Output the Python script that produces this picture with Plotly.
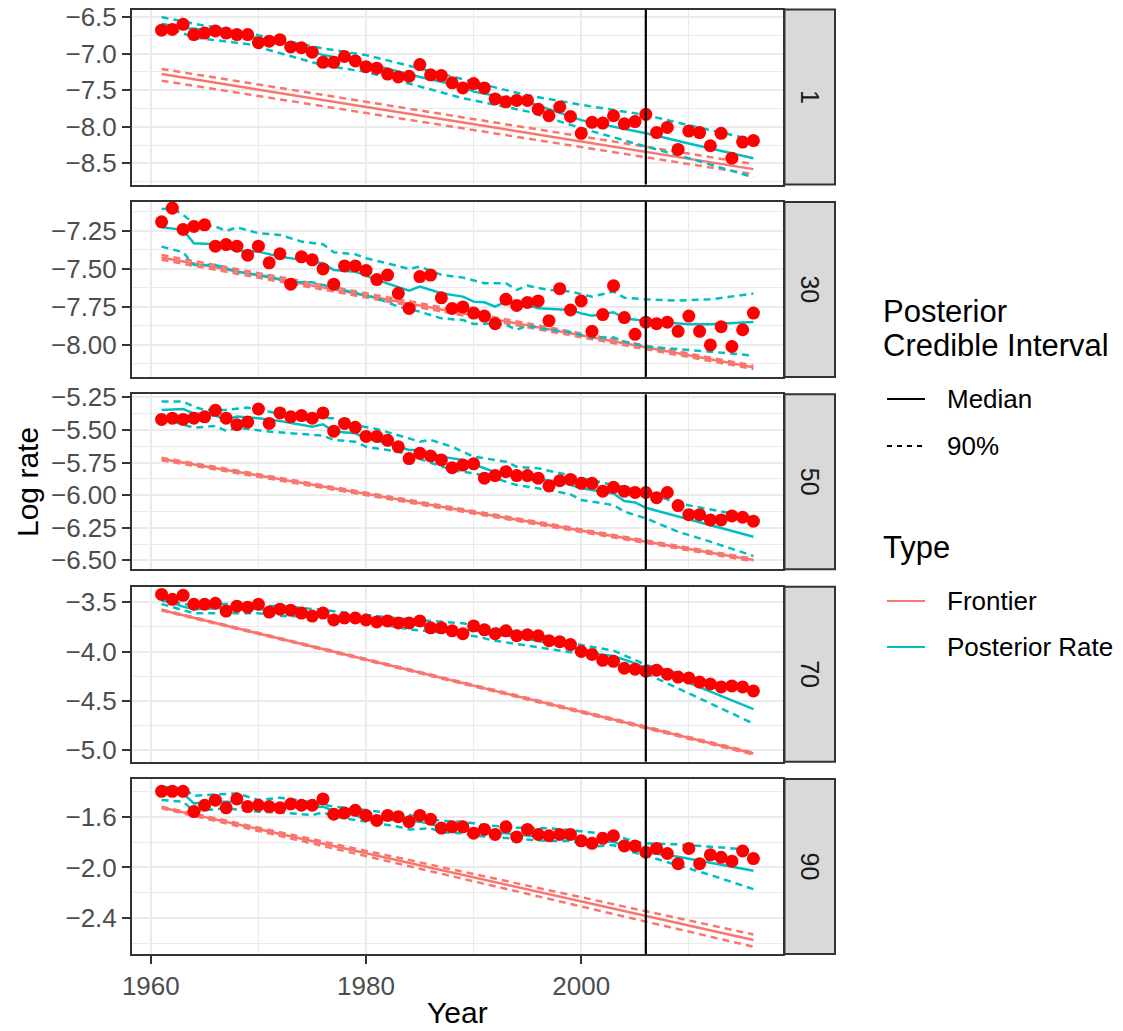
import plotly.graph_objects as go

W, H = 1123, 1031

# ---------------- data ----------------
years = list(range(1961, 2017))
ages = ["1", "30", "50", "70", "90"]
forecast_year = 2006

obs_1 = [-6.68, -6.67, -6.60, -6.74, -6.72, -6.69, -6.72, -6.74, -6.74, -6.85,
         -6.83, -6.81, -6.91, -6.92, -6.98, -7.12, -7.12, -7.04, -7.10, -7.18,
         -7.20, -7.28, -7.32, -7.31, -7.15, -7.29, -7.30, -7.40, -7.47, -7.41,
         -7.47, -7.62, -7.66, -7.64, -7.64, -7.76, -7.85, -7.73, -7.86, -8.09,
         -7.94, -7.95, -7.85, -7.96, -7.93, -7.83, -8.08, -8.01, -8.31, -8.06,
         -8.08, -8.26, -8.09, -8.43, -8.21, -8.19]
obs_30 = [-7.19, -7.10, -7.24, -7.22, -7.21, -7.35, -7.34, -7.35, -7.41, -7.35,
          -7.46, -7.40, -7.60, -7.42, -7.44, -7.50, -7.60, -7.48, -7.48, -7.51,
          -7.57, -7.54, -7.66, -7.76, -7.55, -7.54, -7.69, -7.76, -7.75, -7.79,
          -7.81, -7.86, -7.70, -7.74, -7.72, -7.71, -7.84, -7.63, -7.77, -7.71,
          -7.91, -7.80, -7.61, -7.82, -7.93, -7.85, -7.86, -7.85, -7.91, -7.81,
          -7.91, -8.00, -7.88, -8.01, -7.90, -7.79]
obs_50 = [-5.42, -5.41, -5.42, -5.41, -5.40, -5.35, -5.41, -5.46, -5.44, -5.34,
          -5.45, -5.37, -5.40, -5.39, -5.41, -5.37, -5.51, -5.45, -5.48, -5.55,
          -5.55, -5.58, -5.63, -5.72, -5.68, -5.70, -5.73, -5.79, -5.77, -5.76,
          -5.87, -5.85, -5.82, -5.85, -5.85, -5.87, -5.93, -5.89, -5.88, -5.91,
          -5.91, -5.97, -5.94, -5.97, -5.98, -5.98, -6.02, -5.98, -6.08, -6.15,
          -6.15, -6.19, -6.19, -6.16, -6.17, -6.20]
obs_70 = [-3.42, -3.47, -3.43, -3.52, -3.52, -3.51, -3.59, -3.54, -3.55, -3.52,
          -3.60, -3.57, -3.58, -3.61, -3.64, -3.61, -3.68, -3.66, -3.66, -3.68,
          -3.70, -3.69, -3.71, -3.71, -3.69, -3.76, -3.76, -3.79, -3.82, -3.74,
          -3.78, -3.82, -3.79, -3.84, -3.83, -3.84, -3.89, -3.90, -3.93, -4.00,
          -4.03, -4.09, -4.10, -4.17, -4.18, -4.20, -4.19, -4.23, -4.26, -4.27,
          -4.31, -4.33, -4.36, -4.35, -4.36, -4.40]
obs_90 = [-1.40, -1.40, -1.40, -1.56, -1.51, -1.47, -1.53, -1.46, -1.52, -1.51,
          -1.52, -1.53, -1.50, -1.51, -1.51, -1.46, -1.58, -1.57, -1.55, -1.59,
          -1.63, -1.59, -1.60, -1.64, -1.59, -1.62, -1.69, -1.68, -1.68, -1.73,
          -1.70, -1.74, -1.68, -1.76, -1.70, -1.74, -1.75, -1.74, -1.74, -1.79,
          -1.81, -1.77, -1.75, -1.83, -1.83, -1.88, -1.85, -1.89, -1.97, -1.85,
          -1.97, -1.90, -1.92, -1.95, -1.87, -1.93]

# posterior rate: median and 90% interval, read at (year, value) knots
med_1 = [(1961, -6.59), (1963, -6.65), (1966, -6.68), (1970, -6.79), (1973, -6.87),
         (1976, -7.02), (1980, -7.13), (1985, -7.32), (1989, -7.45), (1990, -7.52),
         (1995, -7.66), (2000, -7.91), (2006, -8.09), (2010, -8.23), (2016, -8.43)]
hi_1 = [(1961, -6.50), (1964, -6.59), (1970, -6.75), (1976, -6.93), (1980, -7.02),
        (1985, -7.20), (1989, -7.35), (1993, -7.50), (1995, -7.57), (2000, -7.70),
        (2006, -7.84), (2010, -7.98), (2016, -8.18)]
lo_1 = [(1961, -6.61), (1964, -6.78), (1969, -6.87), (1976, -7.16), (1980, -7.25),
        (1985, -7.45), (1989, -7.61), (1995, -7.79), (2000, -8.02), (2006, -8.27),
        (2010, -8.43), (2016, -8.69)]

med_30 = [(1961, -7.226), (1963, -7.243), (1964, -7.331), (1966, -7.338), (1968, -7.38),
          (1970, -7.386), (1972, -7.419), (1974, -7.441), (1976, -7.463), (1977, -7.507),
          (1979, -7.518), (1981, -7.572), (1984, -7.643), (1985, -7.616), (1987, -7.66),
          (1989, -7.682), (1990, -7.715), (1991, -7.719), (1992, -7.748), (1993, -7.715),
          (1995, -7.737), (1996, -7.759), (1999, -7.77), (2000, -7.792), (2001, -7.807),
          (2003, -7.785), (2004, -7.825), (2006, -7.842), (2008, -7.853), (2010, -7.864),
          (2012, -7.864), (2014, -7.857), (2016, -7.849)]
hi_30 = [(1961, -7.105), (1962, -7.101), (1963, -7.145), (1964, -7.20), (1966, -7.221),
         (1967, -7.25), (1968, -7.226), (1970, -7.265), (1972, -7.276), (1974, -7.32),
         (1976, -7.338), (1977, -7.39), (1979, -7.404), (1980, -7.43), (1982, -7.463),
         (1984, -7.50), (1985, -7.485), (1987, -7.539), (1989, -7.557), (1991, -7.594),
         (1993, -7.594), (1994, -7.638), (1995, -7.61), (1997, -7.638), (1999, -7.649),
         (2001, -7.682), (2003, -7.649), (2004, -7.689), (2006, -7.70), (2009, -7.708),
         (2012, -7.70), (2016, -7.662)]
lo_30 = [(1961, -7.353), (1963, -7.39), (1964, -7.474), (1966, -7.474), (1968, -7.518),
         (1971, -7.55), (1973, -7.588), (1975, -7.588), (1977, -7.623), (1979, -7.66),
         (1981, -7.693), (1983, -7.748), (1985, -7.781), (1987, -7.825), (1989, -7.836),
         (1990, -7.862), (1992, -7.857), (1993, -7.868), (1994, -7.90), (1995, -7.873),
         (1997, -7.90), (1999, -7.917), (2001, -7.952), (2003, -7.95), (2004, -7.978),
         (2006, -8.011), (2009, -8.026), (2012, -8.044), (2016, -8.07)]

med_50 = [(1961, -5.347), (1963, -5.34), (1964, -5.373), (1966, -5.391), (1967, -5.424),
          (1968, -5.398), (1970, -5.411), (1972, -5.432), (1975, -5.475), (1976, -5.457),
          (1977, -5.513), (1979, -5.526), (1980, -5.565), (1982, -5.603), (1984, -5.654),
          (1985, -5.654), (1987, -5.705), (1989, -5.731), (1990, -5.764), (1992, -5.825),
          (1995, -5.866), (1998, -5.897), (2000, -5.948), (2003, -5.987), (2004, -6.045),
          (2005, -6.056), (2006, -6.097), (2016, -6.319)]
hi_50 = [(1961, -5.283), (1963, -5.283), (1964, -5.322), (1965, -5.347), (1967, -5.347),
         (1969, -5.329), (1971, -5.36), (1973, -5.398), (1977, -5.411), (1978, -5.449),
         (1981, -5.493), (1984, -5.565), (1985, -5.59), (1986, -5.577), (1988, -5.629),
         (1989, -5.667), (1990, -5.705), (1993, -5.744), (1994, -5.782), (1996, -5.795),
         (1999, -5.851), (2002, -5.91), (2003, -5.923), (2006, -5.974), (2009, -6.063),
         (2016, -6.173)]
lo_50 = [(1961, -5.411), (1964, -5.483), (1966, -5.47), (1967, -5.508), (1968, -5.483),
         (1971, -5.513), (1976, -5.544), (1977, -5.577), (1979, -5.59), (1980, -5.629),
         (1983, -5.667), (1985, -5.723), (1987, -5.782), (1988, -5.808), (1989, -5.82),
         (1990, -5.833), (1992, -5.871), (1994, -5.923), (1997, -5.961), (1999, -5.994),
         (2000, -6.038), (2002, -6.063), (2003, -6.076), (2004, -6.127), (2006, -6.178),
         (2009, -6.281), (2012, -6.357), (2016, -6.467)]

med_70 = [(1961, -3.483), (1962, -3.503), (1963, -3.544), (1964, -3.571), (1966, -3.561),
          (1967, -3.551), (1968, -3.537), (1970, -3.571), (1972, -3.571), (1974, -3.595),
          (1976, -3.612), (1977, -3.663), (1980, -3.673), (1983, -3.707), (1985, -3.731),
          (1987, -3.764), (1989, -3.788), (1990, -3.781), (1992, -3.832), (1994, -3.849),
          (1997, -3.917), (1999, -3.951), (2001, -4.019), (2003, -4.046), (2005, -4.12),
          (2006, -4.171), (2009, -4.273), (2016, -4.585)]
hi_70 = [(1961, -3.469), (1964, -3.537), (1967, -3.517), (1970, -3.537), (1972, -3.537),
         (1976, -3.578), (1980, -3.629), (1984, -3.673), (1989, -3.714), (1990, -3.731),
         (1993, -3.775), (1996, -3.832), (2000, -3.934), (2003, -3.992), (2005, -4.086),
         (2006, -4.137), (2008, -4.188), (2010, -4.256), (2016, -4.408)]
lo_70 = [(1961, -3.517), (1964, -3.612), (1967, -3.612), (1970, -3.612), (1972, -3.639),
         (1976, -3.646), (1980, -3.697), (1984, -3.775), (1989, -3.832), (1990, -3.842),
         (1992, -3.89), (1994, -3.924), (1997, -3.968), (2000, -4.025), (2003, -4.097),
         (2005, -4.161), (2006, -4.222), (2008, -4.324), (2010, -4.425), (2012, -4.527),
         (2016, -4.731)]

med_90 = [(1961, -1.39), (1963, -1.416), (1964, -1.495), (1966, -1.482), (1968, -1.482),
          (1970, -1.508), (1972, -1.521), (1976, -1.521), (1977, -1.555), (1979, -1.587),
          (1980, -1.626), (1983, -1.626), (1985, -1.639), (1987, -1.679), (1989, -1.705),
          (1990, -1.718), (1993, -1.731), (1996, -1.757), (1999, -1.771), (2001, -1.797),
          (2003, -1.797), (2005, -1.862), (2006, -1.881), (2009, -1.915), (2016, -2.025)]
hi_90 = [(1961, -1.364), (1963, -1.377), (1964, -1.435), (1966, -1.424), (1968, -1.416),
         (1970, -1.469), (1972, -1.45), (1975, -1.487), (1977, -1.521), (1980, -1.548),
         (1984, -1.587), (1987, -1.634), (1989, -1.639), (1991, -1.666), (1994, -1.687),
         (1997, -1.692), (1999, -1.705), (2003, -1.744), (2005, -1.797), (2006, -1.81),
         (2009, -1.818), (2016, -1.862)]
lo_90 = [(1961, -1.469), (1963, -1.482), (1964, -1.555), (1967, -1.534), (1970, -1.561),
         (1972, -1.566), (1975, -1.587), (1976, -1.566), (1977, -1.60), (1980, -1.639),
         (1983, -1.679), (1984, -1.70), (1986, -1.692), (1987, -1.723), (1989, -1.731),
         (1991, -1.757), (1994, -1.776), (1997, -1.792), (1999, -1.792), (2001, -1.836),
         (2003, -1.823), (2004, -1.862), (2006, -1.907), (2009, -1.981), (2012, -2.059),
         (2016, -2.17)]

# frontier (straight lines) read at first and last year
front_years = [1961, 2016]
front_1, front_lo_1, front_hi_1 = [-7.28, -8.58], [-7.37, -8.65], [-7.21, -8.51]
front_30, front_lo_30, front_hi_30 = [-7.425, -8.147], [-7.44, -8.158], [-7.408, -8.136]
front_50, front_lo_50, front_hi_50 = [-5.723, -6.498], [-5.733, -6.508], [-5.713, -6.488]
front_70, front_lo_70, front_hi_70 = [-3.578, -5.036], [-3.583, -5.046], [-3.573, -5.026]
front_90, front_lo_90, front_hi_90 = [-1.527, -2.571], [-1.534, -2.624], [-1.521, -2.527]

yticks_1 = [-6.5, -7.0, -7.5, -8.0, -8.5]
yticks_30 = [-7.25, -7.50, -7.75, -8.00]
yticks_50 = [-5.25, -5.50, -5.75, -6.00, -6.25, -6.50]
yticks_70 = [-3.5, -4.0, -4.5, -5.0]
yticks_90 = [-1.6, -2.0, -2.4]
ydec = {"1": 1, "30": 2, "50": 2, "70": 1, "90": 1}
xticks = [1960, 1980, 2000]
xminor = [1970, 1990, 2010]

# ---------------- styling ----------------
FRONT = "#F8766D"
POST = "#00BFC4"
FONT = "Liberation Sans, Arial, sans-serif"
GRID = "#EBEBEB"
BORDER = "#333333"

panels = [
    dict(age="1", obs=obs_1, med=med_1, lo=lo_1, hi=hi_1,
         f=front_1, flo=front_lo_1, fhi=front_hi_1, ticks=yticks_1, rng=[-8.790, -6.397]),
    dict(age="30", obs=obs_30, med=med_30, lo=lo_30, hi=hi_30,
         f=front_30, flo=front_lo_30, fhi=front_hi_30, ticks=yticks_30, rng=[-8.210, -7.059]),
    dict(age="50", obs=obs_50, med=med_50, lo=lo_50, hi=hi_50,
         f=front_50, flo=front_lo_50, fhi=front_hi_50, ticks=yticks_50, rng=[-6.569, -5.227]),
    dict(age="70", obs=obs_70, med=med_70, lo=lo_70, hi=hi_70,
         f=front_70, flo=front_lo_70, fhi=front_hi_70, ticks=yticks_70, rng=[-5.119, -3.342]),
    dict(age="90", obs=obs_90, med=med_90, lo=lo_90, hi=hi_90,
         f=front_90, flo=front_lo_90, fhi=front_hi_90, ticks=yticks_90, rng=[-2.682, -1.304]),
]

PX_L, PX_R = 132, 783
tops = [9.5, 201.9, 394.3, 586.7, 779.1]
PH = 175

DASH = "7px,5px"
LW = 2.5

fig = go.Figure()
layout = dict(
    width=W, height=H, margin=dict(l=0, r=0, t=0, b=0, pad=0, autoexpand=False),
    paper_bgcolor="white", plot_bgcolor="white", showlegend=False,
    template="none",
    font=dict(family=FONT, size=26, color="#4D4D4D"),
)
shapes = []
annotations = []


def minor_vals(ticks):
    step = ticks[1] - ticks[0]
    vals = [t + step / 2 for t in ticks]
    vals.append(ticks[0] - step / 2)
    return vals


for i, p in enumerate(panels):
    sfx = "" if i == 0 else str(i + 1)
    xa, ya = "x" + sfx, "y" + sfx
    # frontier
    for vals, dash in ((p["flo"], DASH), (p["fhi"], DASH), (p["f"], "solid")):
        fig.add_trace(go.Scatter(x=front_years, y=vals, mode="lines", xaxis=xa, yaxis=ya,
                                 line=dict(color=FRONT, width=LW, dash=dash), hoverinfo="skip"))
    # posterior
    for knots, dash in ((p["lo"], DASH), (p["hi"], DASH), (p["med"], "solid")):
        fig.add_trace(go.Scatter(x=[k[0] for k in knots], y=[k[1] for k in knots], mode="lines",
                                 xaxis=xa, yaxis=ya,
                                 line=dict(color=POST, width=LW, dash=dash), hoverinfo="skip"))
    # observed
    fig.add_trace(go.Scatter(x=years, y=p["obs"], mode="markers", xaxis=xa, yaxis=ya,
                             marker=dict(color="#FF0000", size=13, line=dict(width=0))))

    top, bot = tops[i], tops[i] + PH
    dom = [1 - bot / H, 1 - top / H]
    last = (i == len(panels) - 1)
    xdict = dict(domain=[PX_L / W, PX_R / W], anchor=ya, range=[1958.25, 2018.75],
                 automargin=False,
                 tickmode="array", tickvals=xticks, ticktext=[str(t) for t in xticks],
                 showticklabels=last, ticks="outside" if last else "",
                 ticklen=8, tickwidth=2, tickcolor=BORDER,
                 showgrid=True, gridcolor=GRID, gridwidth=2, zeroline=False,
                 showline=True, mirror=True, linecolor=BORDER, linewidth=2,
                 minor=dict(tickvals=xminor, showgrid=True, gridcolor=GRID, gridwidth=1, ticks=""),
                 tickfont=dict(size=26, color="#4D4D4D", family=FONT))
    if i > 0:
        xdict["matches"] = "x"
    layout["xaxis" + sfx] = xdict
    d = ydec[p["age"]]
    layout["yaxis" + sfx] = dict(
        domain=dom, anchor=xa, range=p["rng"], tickmode="array", tickvals=p["ticks"],
        automargin=False,
        ticktext=[("\u2212" if t < 0 else "") + f"{abs(t):.{d}f}" for t in p["ticks"]],
        ticks="outside", ticklen=8, tickwidth=2, tickcolor=BORDER,
        showgrid=True, gridcolor=GRID, gridwidth=2, zeroline=False,
        showline=True, mirror=True, linecolor=BORDER, linewidth=2,
        minor=dict(tickvals=minor_vals(p["ticks"]), showgrid=True, gridcolor=GRID,
                   gridwidth=1, ticks=""),
        tickfont=dict(size=26, color="#4D4D4D", family=FONT))

    # forecast line
    shapes.append(dict(type="line", xref=xa, yref=ya + " domain", x0=forecast_year,
                       x1=forecast_year, y0=0, y1=1, line=dict(color="black", width=2.2),
                       layer="above"))
    # strip
    shapes.append(dict(type="rect", xref="paper", yref="paper", x0=784.5 / W, x1=835 / W,
                       y0=dom[0], y1=dom[1], fillcolor="#D9D9D9",
                       line=dict(color=BORDER, width=2), layer="above"))
    annotations.append(dict(xref="paper", yref="paper", x=810 / W, y=(dom[0] + dom[1]) / 2,
                            text=p["age"], showarrow=False, textangle=90,
                            font=dict(size=25, color="#1A1A1A", family=FONT),
                            xanchor="center", yanchor="middle"))

# axis titles
annotations.append(dict(xref="paper", yref="paper", x=(PX_L + PX_R) / 2 / W, y=1 - 1012 / H,
                        text="Year", showarrow=False, xanchor="center", yanchor="middle",
                        font=dict(size=30, color="black", family=FONT)))
annotations.append(dict(xref="paper", yref="paper", x=27 / W, y=1 - 482 / H,
                        text="Log rate", showarrow=False, textangle=-90,
                        xanchor="center", yanchor="middle",
                        font=dict(size=30, color="black", family=FONT)))


# manual legends
def leg_text(txt, px, py, size=26):
    annotations.append(dict(xref="paper", yref="paper", x=px / W, y=1 - py / H, text=txt,
                            showarrow=False, xanchor="left", yanchor="middle",
                            font=dict(size=size, color="black", family=FONT)))


def leg_key(py, color, dash="solid"):
    shapes.append(dict(type="line", xref="paper", yref="paper", x0=887 / W, x1=925 / W,
                       y0=1 - py / H, y1=1 - py / H, line=dict(color=color, width=2.2, dash=dash)))


leg_text("Posterior", 881, 311, 31)
leg_text("Credible Interval", 881, 345, 31)
leg_key(399, "black")
leg_text("Median", 945, 399)
leg_key(446, "black", "5px,5px")
leg_text("90%", 945, 446)
leg_text("Type", 881, 547, 31)
leg_key(601, FRONT)
leg_text("Frontier", 945, 601)
leg_key(647, POST)
leg_text("Posterior Rate", 945, 647)

layout["shapes"] = shapes
layout["annotations"] = annotations
fig.update_layout(**layout)
fig.write_html(
    "out.html",
    config={"displayModeBar": False},
    post_script="document.body.style.margin='0';document.body.style.overflow='hidden';",
)
